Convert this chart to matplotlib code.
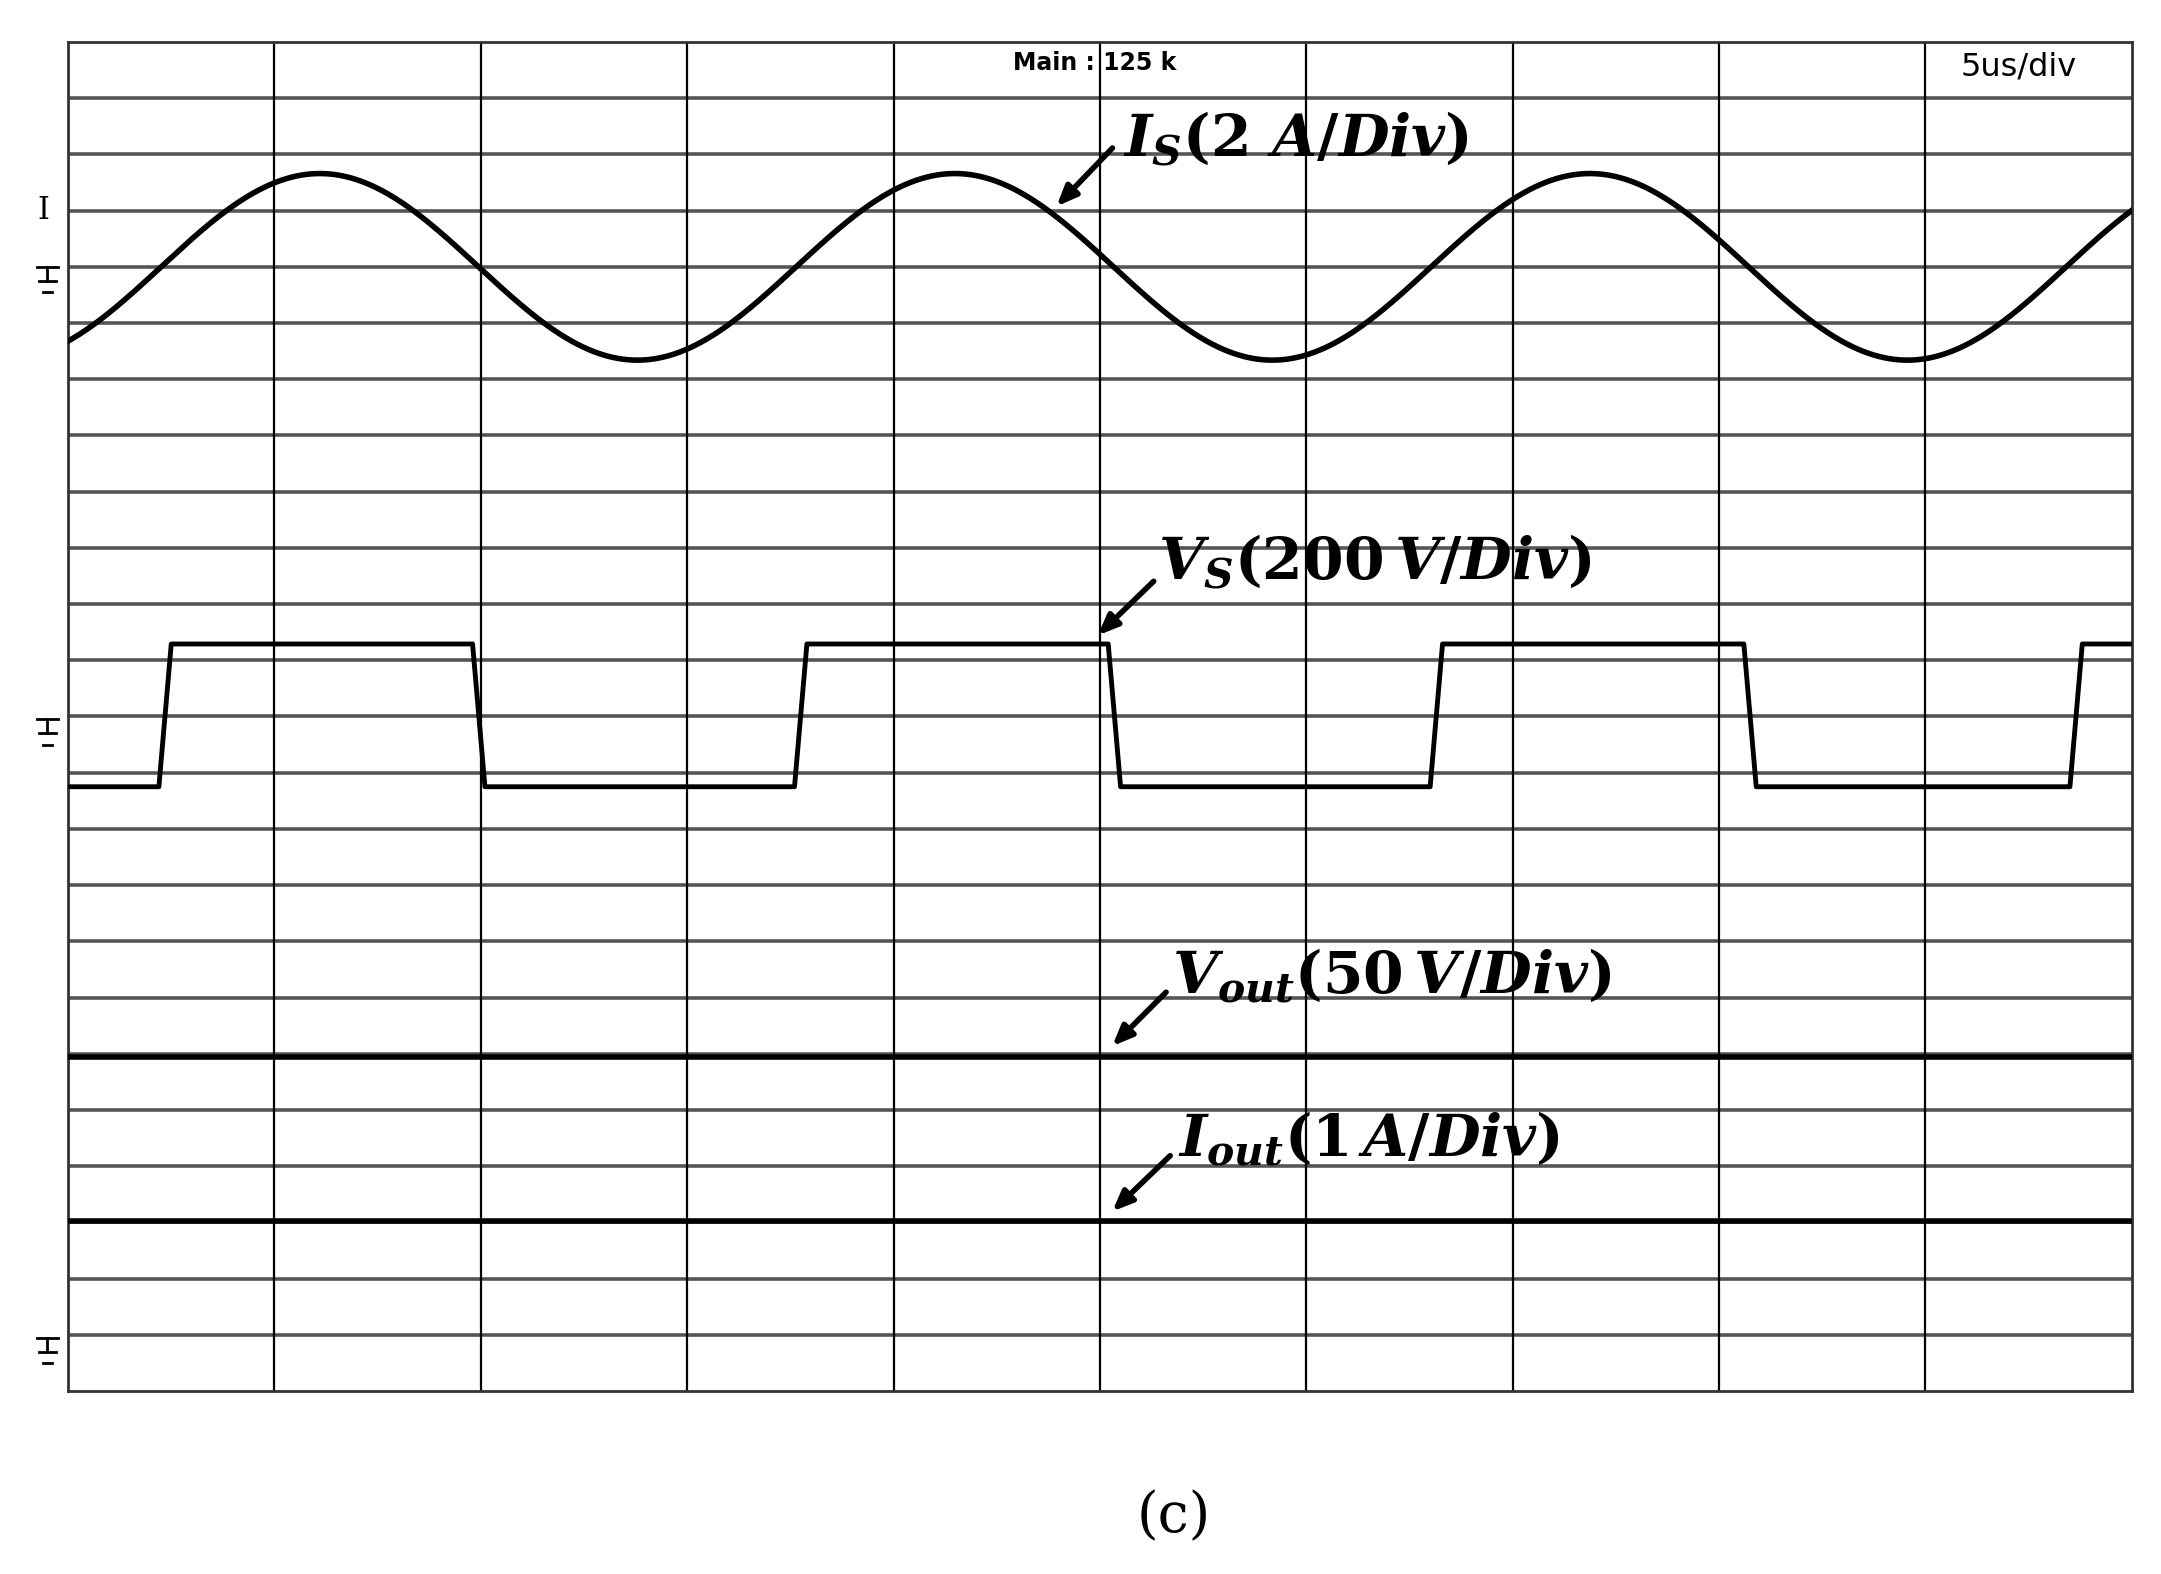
import matplotlib.pyplot as plt
import numpy as np

plt.rcParams['mathtext.fontset'] = 'custom'
plt.rcParams['mathtext.it'] = 'DejaVu Serif:italic:bold'
plt.rcParams['mathtext.rm'] = 'DejaVu Serif:bold'

# screen in divisions: 10 horizontal, 24 vertical (y counted from top)
n_xdiv = 10
n_ydiv = 24

is_center = 4.0
is_amp = 1.66
is_period = 3.077
is_peak_x = 1.22

# Vs: square wave levels and edge times (divisions)
vs_high = 10.71
vs_low = 13.25
vs_rise = [0.47, 3.55, 6.63, 9.73]
vs_fall = [1.99, 5.07, 8.15]
edge_w = 0.06

# flat traces
vout_level = 18.05
iout_level = 20.98

gnd_marks = [4.0, 12.05, 23.05]

labels = [r'$I_S(2\ A/Div)$', r'$V_S(200\,V/Div)$', r'$V_{out}(50\,V/Div)$', r'$I_{out}(1\,A/Div)$']
label_pos = [(5.11, 1.72), (5.28, 9.24), (5.35, 16.6), (5.38, 19.5)]
arrow_head = [(4.78, 2.96), (4.98, 10.59), (5.05, 17.9), (5.05, 20.84)]
arrow_tail = [(5.07, 1.85), (5.27, 9.56), (5.33, 16.87), (5.35, 19.78)]

fig = plt.figure(figsize=(21.61, 15.74), dpi=100)
ax = fig.add_axes([0.0315, 0.1163, 0.955, 0.857])
ax.set_xlim(0, n_xdiv)
ax.set_ylim(n_ydiv, 0)
ax.set_xticks([])
ax.set_yticks([])
for s in ax.spines.values():
    s.set_linewidth(2)
    s.set_color('#333333')
ax.spines['left'].set_linestyle((0, (4, 1)))

for i in range(1, n_ydiv):
    ax.axhline(i, color='#555555', lw=2.6, zorder=1)
for i in range(1, n_xdiv):
    ax.axvline(i, color='black', lw=1.6, zorder=1)

t = np.linspace(0, n_xdiv, 3000)
is_y = is_center - is_amp * np.cos(2 * np.pi * (t - is_peak_x) / is_period)
ax.plot(t, is_y, color='black', lw=4, zorder=3)

# Vs square wave built from edges
vx = [0]
vy = [vs_low]
edges = sorted([(r, 'r') for r in vs_rise] + [(f, 'f') for f in vs_fall])
for e, kind in edges:
    vx += [e - edge_w / 2, e + edge_w / 2]
    vy += [vs_low, vs_high] if kind == 'r' else [vs_high, vs_low]
vx.append(n_xdiv)
vy.append(vy[-1])
ax.plot(vx, vy, color='black', lw=3.5, zorder=3)

ax.axhline(vout_level, color='black', lw=4, zorder=3)
ax.axhline(iout_level, color='black', lw=4, zorder=3)

for lab, p, h, tl in zip(labels, label_pos, arrow_head, arrow_tail):
    ax.text(p[0], p[1], lab, fontsize=42, ha='left', va='center', zorder=5)
    ax.annotate('', xy=h, xytext=tl,
                arrowprops=dict(arrowstyle='-|>,head_length=1.2,head_width=0.5', lw=4, color='black'),
                zorder=5)

ax.text(4.58, 0.38, 'Main : 125 k', fontsize=17, ha='left', va='center', fontweight='bold')
ax.text(9.45, 0.45, '5us/div', fontsize=23, ha='center', va='center')

# ground symbols drawn as short lines left of the screen
for g in gnd_marks:
    ax.plot([-0.15, -0.05], [g, g], color='black', lw=2, clip_on=False)
    ax.plot([-0.1, -0.1], [g, g + 0.25], color='black', lw=2, clip_on=False)
    ax.plot([-0.14, -0.06], [g + 0.25, g + 0.25], color='black', lw=2, clip_on=False)
    ax.plot([-0.12, -0.08], [g + 0.45, g + 0.45], color='black', lw=2, clip_on=False)
ax.text(-0.12, 3.0, 'I', fontsize=22, ha='center', va='center', family='DejaVu Serif', clip_on=False)

fig.text(0.543, 0.036, '(c)', fontsize=40, ha='center', va='center', family='DejaVu Serif')

fig.savefig('out.png', dpi=100)
